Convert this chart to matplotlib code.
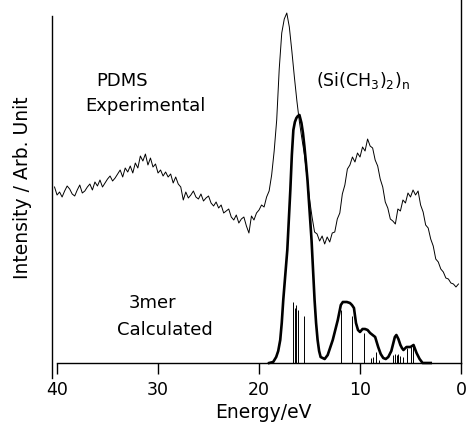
import matplotlib
matplotlib.use("Agg")
import matplotlib.pyplot as plt

plt.rcParams.update({
    "font.family": "DejaVu Sans", "mathtext.fontset": "dejavusans",
    "font.size": 13, "xtick.labelsize": 12.5,
})

# experimental PDMS spectrum (binding energy / eV, intensity in arb. units)
EXP_E = [
    40.25, 40.0, 39.75, 39.5, 39.25, 39.0, 38.75, 38.5,
    38.25, 38.0, 37.75, 37.5, 37.25, 37.0, 36.75, 36.5,
    36.25, 36.0, 35.75, 35.5, 35.25, 35.0, 34.75, 34.5,
    34.25, 34.0, 33.75, 33.5, 33.25, 33.0, 32.75, 32.5,
    32.25, 32.0, 31.75, 31.5, 31.25, 31.0, 30.75, 30.5,
    30.25, 30.0, 29.75, 29.5, 29.25, 29.0, 28.75, 28.5,
    28.25, 28.0, 27.75, 27.5, 27.25, 27.0, 26.75, 26.5,
    26.25, 26.0, 25.75, 25.5, 25.25, 25.0, 24.75, 24.5,
    24.25, 24.0, 23.75, 23.5, 23.25, 23.0, 22.75, 22.5,
    22.25, 22.0, 21.75, 21.5, 21.25, 21.0, 20.75, 20.5,
    20.25, 20.0, 19.75, 19.5, 19.25, 19.0, 18.75, 18.5,
    18.25, 18.0, 17.75, 17.5, 17.25, 17.0, 16.75, 16.5,
    16.25, 16.0, 15.75, 15.5, 15.25, 15.0, 14.75, 14.5,
    14.25, 14.0, 13.75, 13.5, 13.25, 13.0, 12.75, 12.5,
    12.25, 12.0, 11.75, 11.5, 11.25, 11.0, 10.75, 10.5,
    10.25, 10.0, 9.75, 9.5, 9.25, 9.0, 8.75, 8.5,
    8.25, 8.0, 7.75, 7.5, 7.25, 7.0, 6.75, 6.5,
    6.25, 6.0, 5.75, 5.5, 5.25, 5.0, 4.75, 4.5,
    4.25, 4.0, 3.75, 3.5, 3.25, 3.0, 2.75, 2.5,
    2.25, 2.0, 1.75, 1.5, 1.25, 1.0, 0.75, 0.5,
    0.25,
]
EXP_I = [
    176, 168, 171, 166, 172, 177, 174, 169,
    167, 173, 178, 170, 172, 176, 179, 173,
    181, 177, 183, 176, 180, 184, 187, 182,
    185, 189, 193, 186, 195, 191, 197, 190,
    200, 195, 207, 202, 209, 198, 205, 196,
    199, 190, 193, 187, 191, 186, 189, 180,
    186, 179, 176, 163, 171, 165, 168, 172,
    166, 164, 169, 162, 165, 167, 160, 157,
    161, 155, 158, 150, 152, 154, 146, 143,
    148, 140, 144, 146, 137, 130, 147, 143,
    150, 153, 158, 156, 166, 172, 188, 212,
    243, 294, 330, 344, 350, 336, 312, 286,
    262, 241, 224, 208, 186, 164, 146, 131,
    129, 122, 127, 119, 126, 121, 130, 131,
    144, 150, 169, 178, 194, 198, 206, 201,
    210, 206, 216, 212, 224, 217, 215, 203,
    197, 184, 176, 161, 155, 144, 142, 139,
    154, 152, 163, 160, 170, 166, 173, 168,
    172, 158, 151, 138, 135, 124, 117, 104,
    101, 94, 91, 85, 84, 80, 79, 76,
    79,
]

# broadened 3mer calculation
CALC_E = [19.0, 18.6, 18.3, 18.1, 17.9, 17.75, 17.6, 17.4, 17.2, 17.05, 16.9,
          16.75, 16.6, 16.45, 16.3, 16.15, 16.0, 15.8, 15.65, 15.5, 15.35, 15.2,
          15.0, 14.8, 14.65, 14.5, 14.35, 14.2, 14.05, 13.9, 13.5, 13.2, 12.7,
          12.2, 11.9, 11.7, 11.5, 11.3, 11.0, 10.8, 10.6, 10.4, 10.2, 10.0,
          9.75, 9.5, 9.25, 9.0, 8.75, 8.5, 8.2, 7.95, 7.7, 7.45, 7.2, 6.9, 6.7,
          6.55, 6.4, 6.2, 6.0, 5.85, 5.7, 5.4, 5.0, 4.7, 4.4, 4.1, 3.8, 3.0]
CALC_I = [0, 1, 6, 12, 23, 40, 63, 88, 113, 143, 173,
          208, 233, 241, 245, 247, 248, 240, 230, 216, 200, 183,
          153, 123, 93, 63, 40, 23, 12, 6, 4, 8, 23,
          43, 58, 61, 61, 61, 60, 58, 55, 40, 33, 31,
          34, 34, 33, 30, 28, 26, 16, 9, 5, 4, 6, 12, 20,
          26, 28, 24, 18, 15, 13, 16, 16, 18, 10, 4, 0, 0]

# individual calculated levels
STICK_E = [16.6, 16.45, 16.3, 16.15, 15.5, 11.9, 10.8, 9.6, 8.9, 8.7, 8.4, 8.1,
           6.7, 6.5, 6.35, 6.2, 6.05, 5.7, 5.3, 4.95, 4.75]
STICK_I = [61, 55, 58, 53, 47, 53, 47, 30, 5, 6, 11, 3,
           8, 9, 8, 9, 7, 6, 15, 16, 18]

W, H = 470, 423


def fx(px):
    return px / W


def fy(py):
    return (H - py) / H


fig = plt.figure(figsize=(4.7, 4.23), dpi=100)
ax = fig.add_axes([fx(52), fy(378), fx(461) - fx(52), fy(0) - fy(378)])
ax.set_xlim(40.5, 0)
ax.set_ylim(-15, 363)

ax.plot(EXP_E, EXP_I, color="black", lw=0.7)
ax.plot(CALC_E, CALC_I, color="black", lw=1.9, solid_joinstyle="round")
ax.vlines(STICK_E, 0, STICK_I, color="black", lw=0.7)

ax.spines["top"].set_visible(False)
ax.spines["bottom"].set_position(("data", 0))
ax.spines["bottom"].set_bounds(40, 0)
ax.spines["left"].set_bounds(-15, 347)
ax.spines["right"].set_bounds(0, 363)
for s in ("bottom", "left", "right"):
    ax.spines[s].set_linewidth(1.0)

ax.set_xticks([40, 30, 20, 10, 0])
ax.set_xticklabels(["40", "30", "20", "10", "0"])
ax.tick_params(axis="x", direction="out", length=8, width=1.0, pad=5)
ax.set_yticks([])

fig.text(fx(263), fy(412), "Energy/eV", ha="center", va="center", fontsize=13.5)
fig.text(fx(23), fy(188), "Intensity / Arb. Unit", ha="center", va="center",
         rotation=90, fontsize=13.5)
fig.text(fx(122), fy(81), "PDMS", ha="center", va="center")
fig.text(fx(145), fy(106), "Experimental", ha="center", va="center")
fig.text(fx(363), fy(80), "(Si(CH$_3$)$_2$)$_\\mathrm{n}$", ha="center",
         va="center", fontsize=12.5)
fig.text(fx(153), fy(303), "3mer", ha="center", va="center")
fig.text(fx(165), fy(330), "Calculated", ha="center", va="center")

fig.savefig("out.png", dpi=100)
